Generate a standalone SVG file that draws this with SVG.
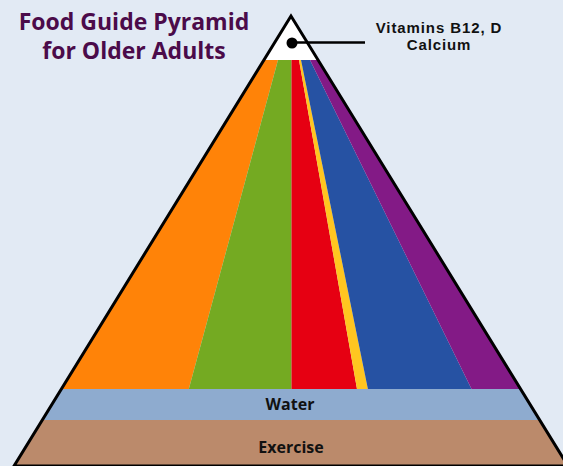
<svg xmlns="http://www.w3.org/2000/svg" width="563" height="466" viewBox="0 0 563 466">
  <defs>
    <clipPath id="tri">
      <polygon points="291,16 14,466 568,466"/>
    </clipPath>
    <style>
      .title { font-family: "Open Sans", "Liberation Sans", sans-serif; font-weight: bold; font-size: 23px; fill: #4b0b4a; text-anchor: middle; }
      .lbl { font-family: "Open Sans", "Liberation Sans", sans-serif; font-weight: bold; fill: #111111; text-anchor: middle; }
      .vit { font-family: "Liberation Sans", Arial, sans-serif; font-weight: bold; font-size: 15px; letter-spacing: 0.9px; fill: #111111; text-anchor: middle; }
      .outline { fill: none; stroke: #000000; stroke-width: 3; stroke-linejoin: miter; }
      .conn { stroke: #000000; stroke-width: 2.5; fill: none; }
    </style>
  </defs>
  <rect x="0" y="0" width="563" height="466" fill="#e2eaf4"/>

  <g id="title">
    <text class="title" x="134" y="30">Food Guide Pyramid</text>
    <text class="title" x="134" y="59">for Older Adults</text>
  </g>

  <g id="pyramid" clip-path="url(#tri)">
    <g id="apex"><rect x="0" y="0" width="600" height="61" fill="#ffffff"/></g>
    <g id="grains"><polygon points="0,60 278,60 188,392 0,392" fill="#ff8308"/></g>
    <g id="vegetables"><polygon points="278,60 291.5,60 291.5,392 188,392" fill="#74aa22"/></g>
    <g id="fruits"><polygon points="291.5,60 299,60 357.5,392 291.5,392" fill="#e60012"/></g>
    <g id="oils"><polygon points="299,60 301,60 368.5,392 357.5,392" fill="#ffc620"/></g>
    <g id="milk"><polygon points="301,60 310,60 473,392 368.5,392" fill="#2652a3"/></g>
    <g id="meat"><polygon points="310,60 600,60 600,392 473,392" fill="#831a86"/></g>
    <g id="water"><rect x="0" y="389" width="600" height="31" fill="#8eabcf"/></g>
    <g id="exercise"><rect x="0" y="420" width="600" height="46" fill="#bb8a6b"/></g>
  </g>
  <polygon class="outline" points="291,16 14,466 568,466"/>

  <g id="labels">
    <text class="lbl" x="290" y="409.5" font-size="16">Water</text>
    <text class="lbl" x="291" y="453" font-size="16">Exercise</text>
  </g>

  <g id="connectors">
    <circle cx="292" cy="43" r="5.5" fill="#000000"/>
    <line class="conn" x1="292" y1="42.5" x2="365" y2="42.5"/>
  </g>

  <g id="vitamins">
    <text class="vit" x="439" y="33">Vitamins B12, D</text>
    <text class="vit" x="439" y="50">Calcium</text>
  </g>
</svg>
